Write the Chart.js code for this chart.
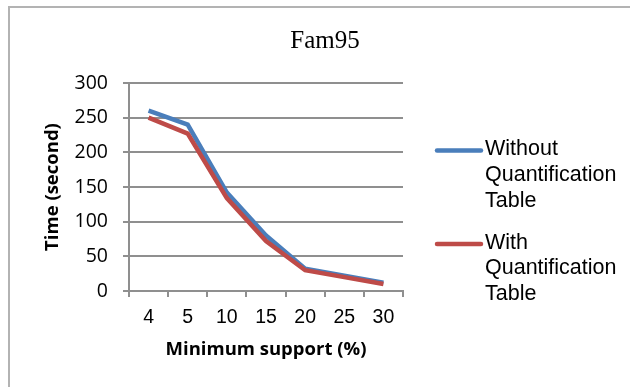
<!DOCTYPE html>
<html>
<head>
<meta charset="utf-8">
<title>Fam95</title>
<script src="https://cdn.jsdelivr.net/npm/chart.js@4.4.1/dist/chart.umd.min.js"></script>
<style>
    html, body { margin: 0; padding: 0; background: #fff; }
    #wrap { position: relative; width: 630px; height: 387px; overflow: hidden; }
    #frame { position: absolute; left: 8px; top: 6px; width: 700px; height: 500px; border: 2px solid #b3b3b3; }
    #fam95Chart { position: absolute; left: 0; top: 0; }
</style>
</head>
<body>
<div id="wrap">
    <div id="frame"></div>
    <canvas id="fam95Chart" width="630" height="387"></canvas>
</div>
<script>
// Data
const minSupport = ['4', '5', '10', '15', '20', '25', '30'];
const withoutTable = [260, 240, 142, 80, 32, 22, 12];
const withTable = [250, 227, 134, 72, 30, 20, 10];
const yTicks = [0, 50, 100, 150, 200, 250, 300];
const seriesNames = ['Without Quantification Table', 'With Quantification Table'];

const gridGray = '#8f8f8f';

// Legend on the right: short line plus label, one word per line
const sideLegend = {
    id: 'sideLegend',
    afterDraw(chart) {
        const ctx = chart.ctx;
        const x0 = chart.chartArea.right + 34;
        ctx.save();
        ctx.font = '21.5px "Liberation Sans", Arial, sans-serif';
        ctx.fillStyle = '#000';
        ctx.textBaseline = 'alphabetic';
        chart.data.datasets.forEach((ds, i) => {
            const lineY = 150.5 + i * 93.5;
            ctx.strokeStyle = ds.borderColor;
            ctx.lineWidth = 4.5;
            ctx.lineCap = 'round';
            ctx.beginPath();
            ctx.moveTo(x0, lineY);
            ctx.lineTo(x0 + 44, lineY);
            ctx.stroke();
            ds.label.split(' ').forEach((word, j) => {
                ctx.fillText(word, x0 + 48, lineY + 4.5 + j * 25.8);
            });
        });
        ctx.restore();
    }
};

document.addEventListener('DOMContentLoaded', () => {
    const ctx = document.getElementById('fam95Chart').getContext('2d');

    const data = {
        labels: minSupport,
        datasets: [{
            label: seriesNames[0],
            data: withoutTable,
            borderColor: '#4a7ebb',
            borderWidth: 4.5,
            pointRadius: 0,
            tension: 0,
            order: 1
        }, {
            label: seriesNames[1],
            data: withTable,
            borderColor: '#be4b48',
            borderWidth: 4.5,
            pointRadius: 0,
            tension: 0,
            order: 0
        }]
    };

    const config = {
        type: 'line',
        data: data,
        options: {
            responsive: false,
            animation: false,
            layout: { padding: { left: 20, right: 0, top: 0, bottom: 0 } },
            plugins: {
                legend: { display: false },
                tooltip: { enabled: false },
                title: {
                    display: true,
                    text: 'Fam95',
                    color: '#000',
                    font: { family: '"Liberation Serif", "Times New Roman", serif', size: 25, weight: 'normal' },
                    padding: { top: 26, bottom: 27 }
                }
            },
            scales: {
                x: {
                    offset: true,
                    grid: { offset: true, drawOnChartArea: false, tickLength: 6, color: gridGray, lineWidth: 2 },
                    border: { color: gridGray, width: 2 },
                    ticks: {
                        color: '#000',
                        padding: 9,
                        maxRotation: 0,
                        autoSkip: false,
                        font: { family: '"Liberation Sans", Arial, sans-serif', size: 19.5 }
                    },
                    title: {
                        display: true,
                        text: 'Minimum support (%)',
                        color: '#000',
                        font: { family: '"Open Sans", sans-serif', size: 18.5, weight: 'bold' },
                        padding: { top: 0, bottom: 26 }
                    },
                    afterFit: (scale) => { scale.height = 96; }
                },
                y: {
                    min: yTicks[0],
                    max: yTicks[yTicks.length - 1],
                    grid: { tickLength: 6, color: gridGray, lineWidth: 2 },
                    border: { color: gridGray, width: 2 },
                    ticks: {
                        stepSize: yTicks[1] - yTicks[0],
                        color: '#000',
                        padding: 15,
                        font: { family: '"Open Sans", sans-serif', size: 19.5 }
                    },
                    title: {
                        display: true,
                        text: 'Time (second)',
                        color: '#000',
                        font: { family: '"Open Sans", sans-serif', size: 18.5, weight: 'bold' },
                        padding: { top: 22, bottom: 0 }
                    },
                    afterFit: (scale) => { scale.width = 109; }
                },
                // empty axis that only reserves room for the legend
                legendSpace: {
                    type: 'linear',
                    position: 'right',
                    display: true,
                    grid: { display: false },
                    border: { display: false },
                    ticks: { display: false },
                    afterFit: (scale) => { scale.width = 227; }
                }
            }
        },
        plugins: [sideLegend]
    };

    new Chart(ctx, config);
});
</script>
</body>
</html>
